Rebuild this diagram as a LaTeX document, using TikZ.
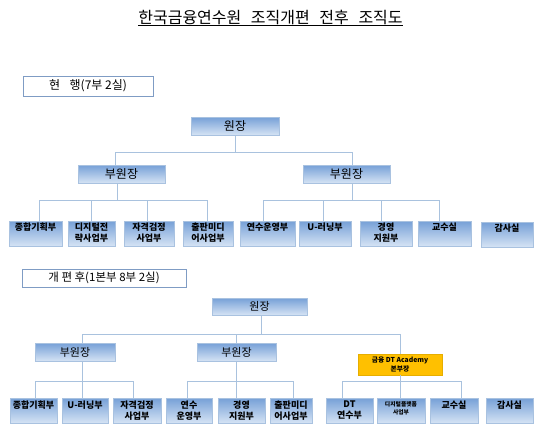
\documentclass[tikz,border=0pt]{standalone}
\usepackage{fontspec}
\setmainfont{Noto Sans CJK KR}
\definecolor{btop}{HTML}{76A0D7}
\definecolor{bbot}{HTML}{D5E3F4}
\definecolor{bdr}{HTML}{A9C2E0}
\definecolor{conc}{HTML}{A9C2DE}
\definecolor{lblc}{HTML}{7F9CC4}
\definecolor{goldc}{HTML}{FFC000}
\definecolor{goldd}{HTML}{E6AE00}
\begin{document}
\begin{tikzpicture}[x=1pt,y=-1pt,
  ob/.style={draw=bdr, line width=0.6pt, top color=btop, bottom color=bbot, inner sep=0pt, anchor=center},
  lb/.style={draw=lblc, line width=0.8pt, fill=white, inner sep=0pt, anchor=center},
  hb/.style={ob, font=\fontsize{12}{14}\selectfont},
  hbs/.style={ob, font=\fontsize{11}{13}\selectfont},
  bt/.style={anchor=north, inner sep=0pt, align=center, font=\bfseries\fontsize{9}{11}\selectfont},
  cn/.style={draw=conc, line width=0.9pt}]
\useasboundingbox (0,0) rectangle (540,428);
\fill[white] (0,0) rectangle (540,428);
% title
\node[inner sep=0pt, font=\fontsize{16}{18}\selectfont] (title) at (270.5,17.5)
  {한국금융연수원\hspace{0.6em}조직개편\hspace{0.6em}전후\hspace{0.6em}조직도};
\draw[line width=0.8pt] ([yshift=-0.5pt]title.south west) -- ([yshift=-0.5pt]title.south east);
% ===== section 1 =====
\node[lb, font=\fontsize{12}{14}\selectfont, minimum width=130pt, minimum height=20pt] (lab1) at (88,86) {현\hspace{0.8em}행(7부 2실)};
\node[hb, minimum width=88pt, minimum height=18pt] (won1) at (235,126) {원장};
\node[hb, minimum width=87pt, minimum height=18pt] (vp1a) at (121.5,174) {부원장};
\node[hb, minimum width=87pt, minimum height=18pt] (vp1b) at (346.5,174) {부원장};
\foreach \n/\c/\w in {b11/35.5/53, b12/91.5/47, b13/149/50, b14/208/50, b15/267.5/55, b16/325/52, b17/386/52, b18/444.5/53}
  \node[ob, minimum width=\w pt, minimum height=25pt] (\n) at (\c,233.5) {};
\node[ob, minimum width=52pt, minimum height=25pt] (b19) at (507,234.5) {};
\node[bt] (t11) at ([yshift=-2pt]b11.north) {종합기획부};
\node[bt] (t12) at ([yshift=-2pt]b12.north) {디지털전\\략사업부};
\node[bt] (t13) at ([yshift=-2pt]b13.north) {자격검정\\사업부};
\node[bt] (t14) at ([yshift=-2pt]b14.north) {출판미디\\어사업부};
\node[bt] (t15) at ([yshift=-2pt]b15.north) {연수운영부};
\node[bt] (t16) at ([yshift=-2pt]b16.north) {U-러닝부};
\node[bt] (t17) at ([yshift=-2pt]b17.north) {경영\\지원부};
\node[bt] (t18) at ([yshift=-2pt]b18.north) {교수실};
\node[bt] (t19) at ([yshift=-2pt]b19.north) {감사실};
% connectors section 1
\coordinate (j1) at (235,152);
\coordinate (j1a) at (115,152);
\coordinate (j1b) at (352,152);
\draw[cn] (won1.south) -- (j1);
\draw[cn] (j1a) -- (j1b);
\draw[cn] (j1a) -- (j1a |- vp1a.north);
\draw[cn] (j1b) -- (j1b |- vp1b.north);
\coordinate (k1a) at (117,200);
\coordinate (k1b) at (352,200);
\draw[cn] (k1a |- vp1a.south) -- (k1a);
\draw[cn] (k1b |- vp1b.south) -- (k1b);
\coordinate (d11) at (39,200);
\coordinate (d12) at (91,200);
\coordinate (d13) at (147,200);
\coordinate (d14) at (207,200);
\coordinate (d15) at (263,200);
\coordinate (d16) at (323,200);
\coordinate (d17) at (381,200);
\coordinate (d18) at (439,200);
\draw[cn] (d11) -- (d14);
\draw[cn] (d15) -- (d18);
\draw[cn] (d11) -- (d11 |- b11.north);
\draw[cn] (d12) -- (d12 |- b12.north);
\draw[cn] (d13) -- (d13 |- b13.north);
\draw[cn] (d14) -- (d14 |- b14.north);
\draw[cn] (d15) -- (d15 |- b15.north);
\draw[cn] (d16) -- (d16 |- b16.north);
\draw[cn] (d17) -- (d17 |- b17.north);
\draw[cn] (d18) -- (d18 |- b18.north);
% ===== section 2 =====
\node[lb, font=\fontsize{11.5}{13}\selectfont, minimum width=164pt, minimum height=18pt] (lab2) at (104,278) {개 편 후(1본부 8부 2실)};
\node[hbs, minimum width=95pt, minimum height=17pt] (won2) at (259.5,306.5) {원장};
\node[hbs, minimum width=80pt, minimum height=18pt] (vp2a) at (75,352) {부원장};
\node[hbs, minimum width=79pt, minimum height=18pt] (vp2b) at (236.5,352) {부원장};
\node[draw=goldd, line width=0.6pt, fill=goldc, inner sep=0pt, align=center,
  font=\bfseries\fontsize{6.8}{9}\selectfont, minimum width=84pt, minimum height=21pt] (dt) at (400,364.5)
  {금융 DT Academy\\본부장};
\foreach \n/\c/\w in {b21/33.5/47, b22/85/46, b23/137/48, b24/189/46, b25/241.5/47, b26/291/42, b27/349.5/47, b28/401/48, b29/454/48, b2a/509.5/47}
  \node[ob, minimum width=\w pt, minimum height=25pt] (\n) at (\c,410.5) {};
\node[bt] (t21) at ([yshift=-3pt]b21.north) {종합기획부};
\node[bt] (t22) at ([yshift=-3pt]b22.north) {U-러닝부};
\node[bt] (t23) at ([yshift=-3pt]b23.north) {자격검정\\사업부};
\node[bt] (t24) at ([yshift=-3pt]b24.north) {연수\\운영부};
\node[bt] (t25) at ([yshift=-3pt]b25.north) {경영\\지원부};
\node[bt] (t26) at ([yshift=-3pt]b26.north) {출판미디\\어사업부};
\node[bt] (t27) at ([yshift=-3pt]b27.north) {DT\\연수부};
\node[bt, font=\bfseries\fontsize{5.8}{8}\selectfont] (t28) at ([yshift=-3.5pt]b28.north) {디지털플랫폼\\사업부};
\node[bt] (t29) at ([yshift=-3pt]b29.north) {교수실};
\node[bt] (t2a) at ([yshift=-3pt]b2a.north) {감사실};
% connectors section 2
\coordinate (j2) at (261,334);
\coordinate (j2a) at (82,334);
\coordinate (j2b) at (236,334);
\coordinate (j2c) at (400,334);
\draw[cn] (j2 |- won2.south) -- (j2);
\draw[cn] (j2a) -- (j2c);
\draw[cn] (j2a) -- (j2a |- vp2a.north);
\draw[cn] (j2b) -- (j2b |- vp2b.north);
\draw[cn] (j2c) -- (j2c |- dt.north);
\coordinate (k2a) at (82,381);
\coordinate (k2b) at (236,381);
\coordinate (k2c) at (400,381);
\draw[cn] (k2a |- vp2a.south) -- (k2a);
\draw[cn] (k2b |- vp2b.south) -- (k2b);
\draw[cn] (k2c |- dt.south) -- (k2c);
\coordinate (d21) at (35,381);
\coordinate (d22) at (82,381);
\coordinate (d23) at (133,381);
\coordinate (d24) at (187,381);
\coordinate (d25) at (236,381);
\coordinate (d26) at (293,381);
\coordinate (d27) at (342,381);
\coordinate (d28) at (400,381);
\coordinate (d29) at (461,381);
\draw[cn] (d21) -- (d23);
\draw[cn] (d24) -- (d26);
\draw[cn] (d27) -- (d29);
\draw[cn] (d21) -- (d21 |- b21.north);
\draw[cn] (d22) -- (d22 |- b22.north);
\draw[cn] (d23) -- (d23 |- b23.north);
\draw[cn] (d24) -- (d24 |- b24.north);
\draw[cn] (d25) -- (d25 |- b25.north);
\draw[cn] (d26) -- (d26 |- b26.north);
\draw[cn] (d27) -- (d27 |- b27.north);
\draw[cn] (d28) -- (d28 |- b28.north);
\draw[cn] (d29) -- (d29 |- b29.north);
\end{tikzpicture}
\end{document}
